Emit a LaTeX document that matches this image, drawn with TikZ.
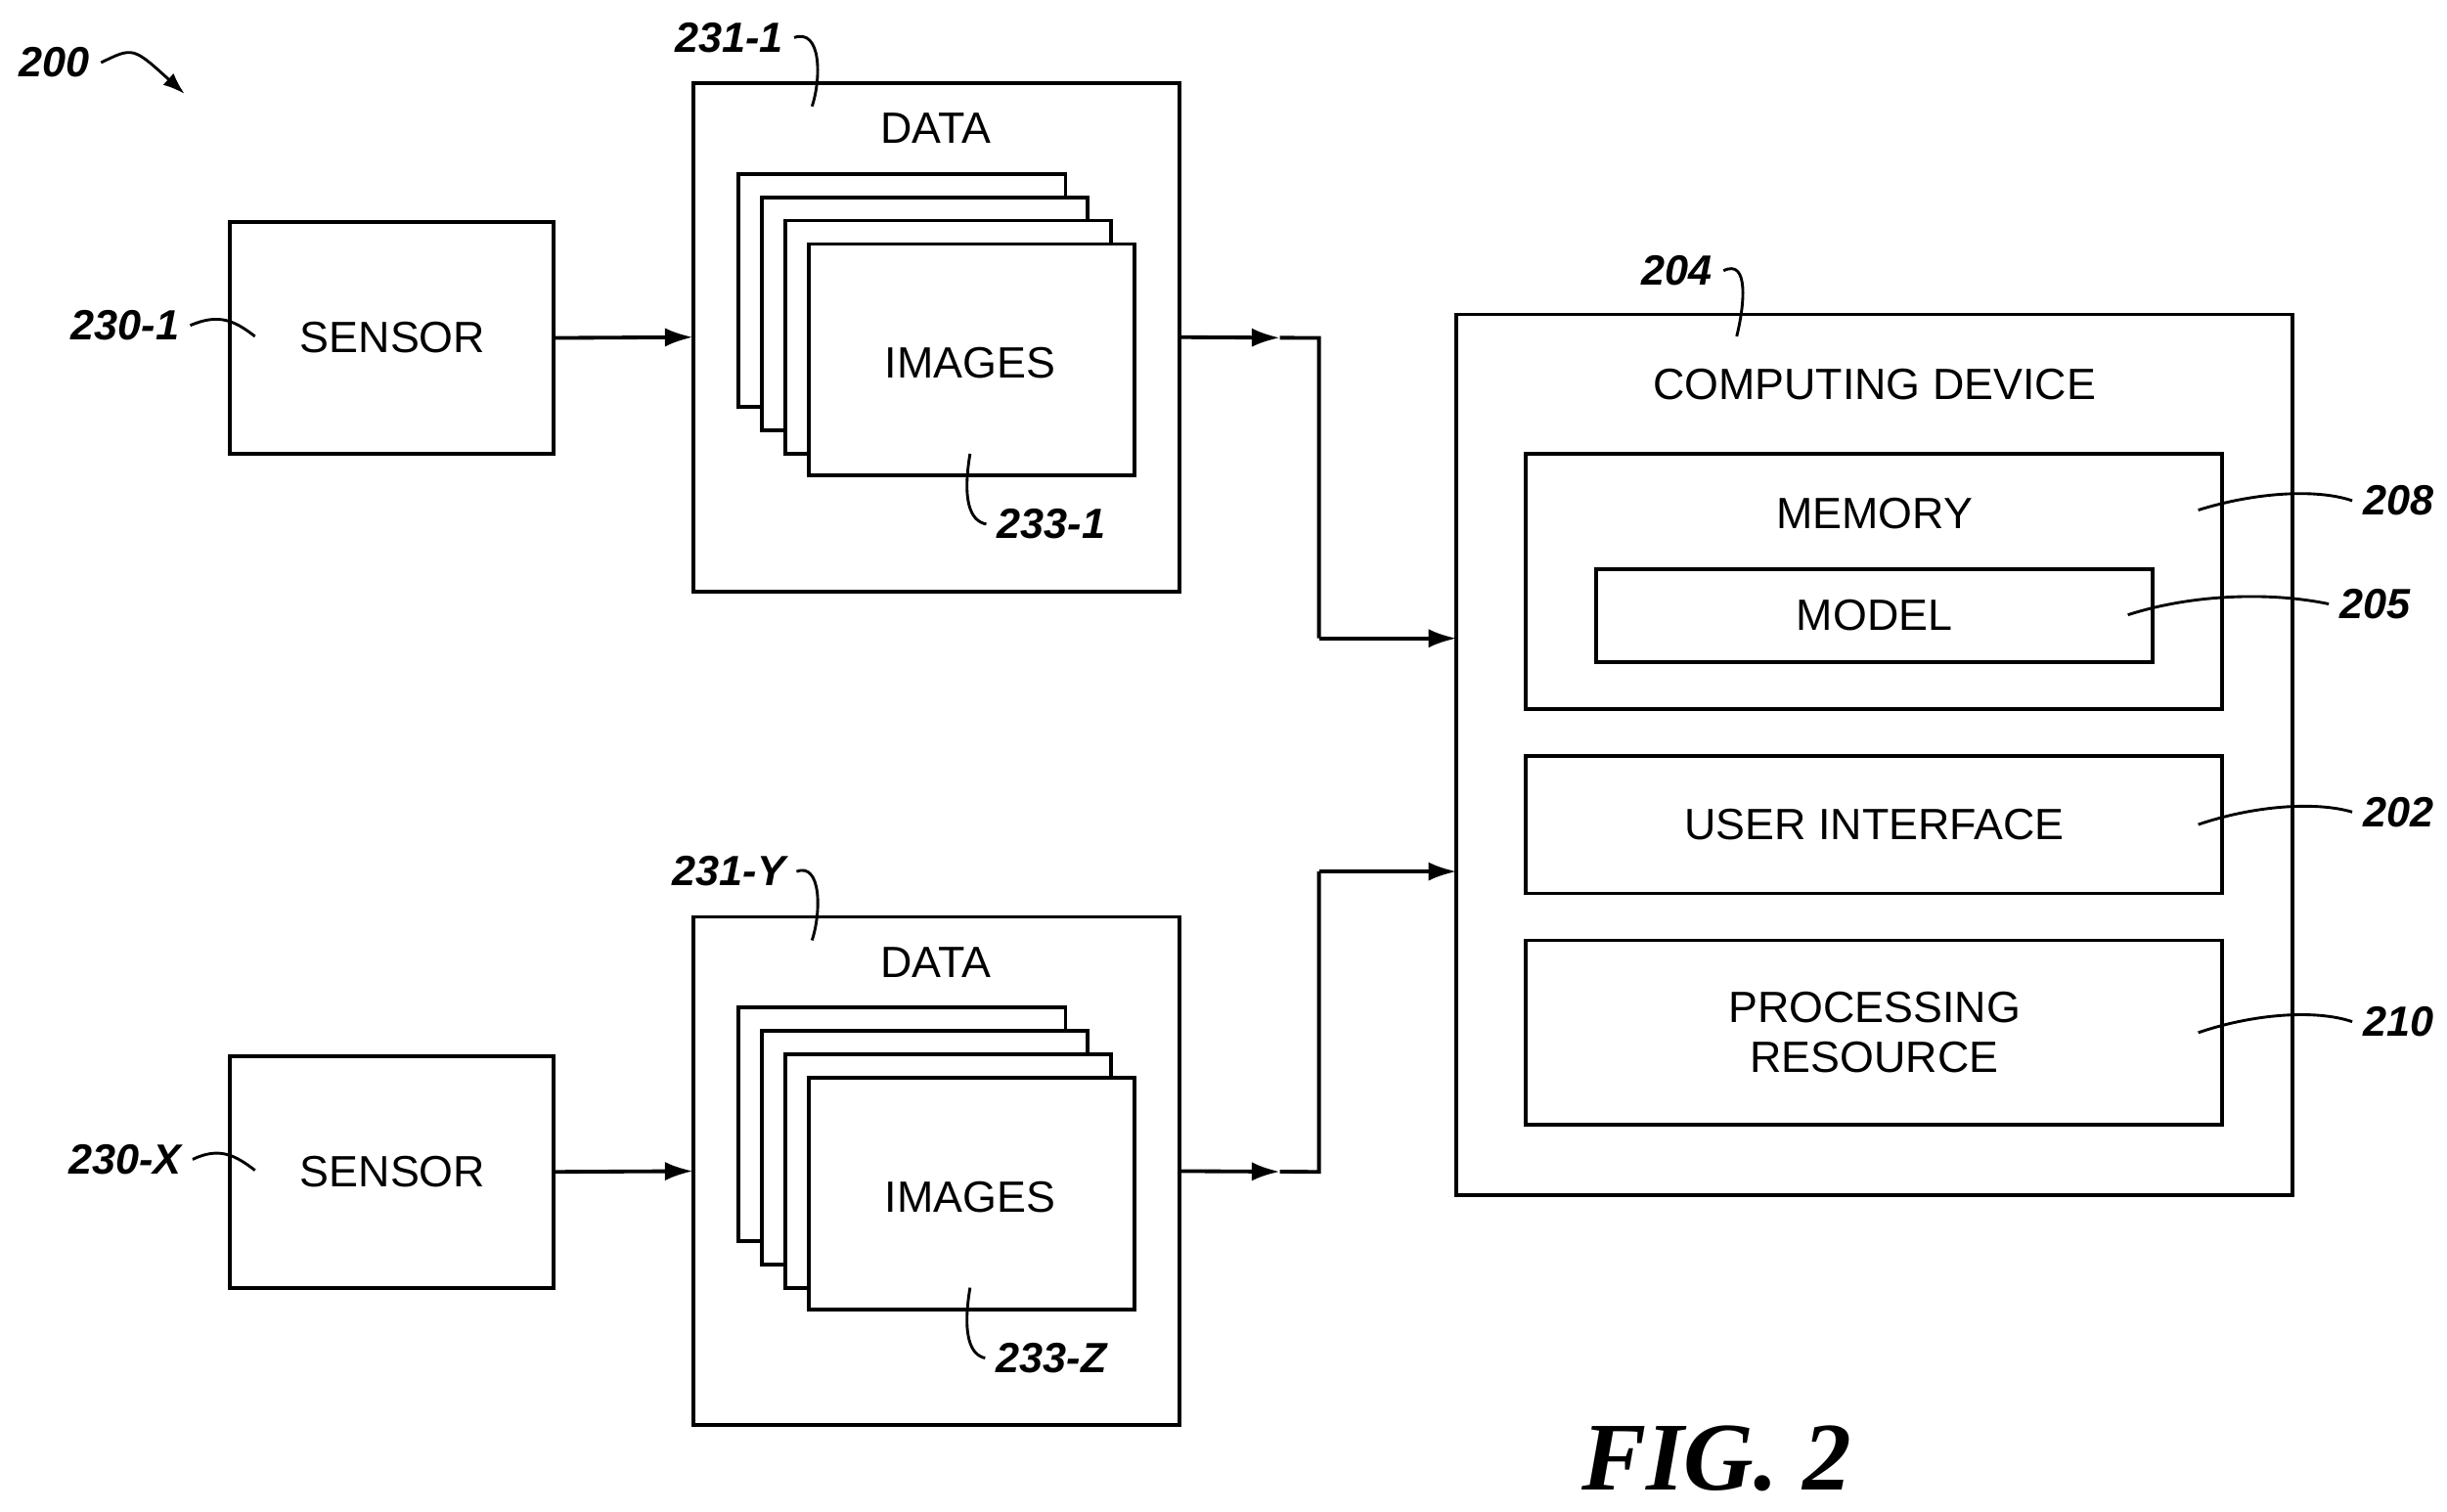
\documentclass[tikz,border=0pt]{standalone}
\usepackage{fontspec}
\setmainfont{Liberation Sans}
\newfontfamily\figfont{Liberation Serif}
\usetikzlibrary{fit,arrows.meta,calc}
\begin{document}
\begin{tikzpicture}[x=0.5pt,y=-0.5pt,
  box/.style={draw,line width=1.2pt,inner sep=0,outer sep=0,fill=white},
  txt/.style={font=\fontsize{14}{17}\selectfont,align=center},
  lbl/.style={font=\fontsize{13.5}{16}\selectfont\bfseries\itshape},
  lead/.style={line width=0.9pt},
  wire/.style={line width=1.2pt},
  arr/.style={line width=1.2pt,-{Latex[length=9pt,width=6pt]}}]
\useasboundingbox (0,0) rectangle (1564,966);
% sensors
\node[box,fit={(147,142)(354,290)}] (s1) {};
\node[txt] (s1t) at (251,216) {SENSOR};
\node[box,fit={(147,675)(354,823)}] (s2) {};
\node[txt] (s2t) at (251,749) {SENSOR};
% data boxes
\foreach \n/\dy in {1/0,2/533}{
  \node[box,fit={(443,53+\dy)(754,378+\dy)}] (d\n) {};
  \node[txt] (d\n t) at (598,82+\dy) {DATA};
  \node[box,fit={(472,111+\dy)(681,260+\dy)}] (i\n a) {};
  \node[box,fit={(487,126+\dy)(695,275+\dy)}] (i\n b) {};
  \node[box,fit={(502,141+\dy)(710,290+\dy)}] (i\n c) {};
  \node[box,fit={(517,156+\dy)(725,304+\dy)}] (i\n d) {};
  \node[txt] (i\n t) at (620,232+\dy) {IMAGES};
}
% computing device
\node[box,fit={(931,201)(1465,764)}] (cd) {};
\node[txt] (cdt) at (1198,246) {COMPUTING DEVICE};
\node[box,fit={(975,290)(1420,453)}] (mem) {};
\node[txt] (memt) at (1198,328) {MEMORY};
\node[box,fit={(1020,364)(1376,423)}] (mod) {};
\node[txt] (modt) at (1198,393) {MODEL};
\node[box,fit={(975,483)(1420,571)}] (ui) {};
\node[txt] (uit) at (1198,527) {USER INTERFACE};
\node[box,fit={(975,601)(1420,719)}] (pr) {};
\node[txt] (prt) at (1198,660) {PROCESSING\\[-1pt]RESOURCE};
% connectors
\draw[arr] (s1.east) -- (d1.east -| d1.west);
\draw[arr] (s2.east) -- (d2.east -| d2.west);
\coordinate (in1) at (931,408);
\coordinate (in2) at (931,557);
\coordinate (m1) at (843,216);
\coordinate (m2) at (843,749);
\draw[arr] (d1.east) -- ($(d1.east)!0.72!(m1)$) coordinate (q1);
\draw[wire] (q1) -- (m1) -- (m1 |- in1);
\draw[arr] (m1 |- in1) -- (in1);
\draw[arr] (d2.east) -- ($(d2.east)!0.72!(m2)$) coordinate (q2);
\draw[wire] (q2) -- (m2) -- (m2 |- in2);
\draw[arr] (m2 |- in2) -- (in2);
% labels
\node[lbl] (l200) at (35,40) {200};
\draw[lead,-{Latex[length=7pt,width=5pt]}] (l200.east) .. controls (85,30) .. (118,60);
\node[lbl] (l2311) at (466,24) {231-1};
\draw[lead] (l2311.east) .. controls (525,18) and (525,50) .. (519,68);
\node[lbl] (l231y) at (466,557) {231-Y};
\draw[lead] (l231y.east) .. controls (525,551) and (525,583) .. (519,601);
\node[lbl] (l2301) at (80,208) {230-1};
\draw[lead] (l2301.east) .. controls (140,200) and (150,205) .. (163,215);
\node[lbl] (l230x) at (80,741) {230-X};
\draw[lead] (l230x.east) .. controls (140,733) and (150,738) .. (163,748);
\node[lbl] (l2331) at (672,335) {233-1};
\draw[lead] (620,290) .. controls (615,320) and (620,333) .. (l2331.west);
\node[lbl] (l233z) at (672,868) {233-Z};
\draw[lead] (620,823) .. controls (615,853) and (620,866) .. (l233z.west);
\node[lbl] (l204) at (1072,173) {204};
\draw[lead] (l204.east) .. controls (1118,165) and (1115,195) .. (1110,215);
\node[lbl] (l208) at (1533,320) {208};
\draw[lead] (1405,326) .. controls (1440,315) and (1480,312) .. (l208.west);
\node[lbl] (l205) at (1518,386) {205};
\draw[lead] (1360,393) .. controls (1400,380) and (1450,378) .. (l205.west);
\node[lbl] (l202) at (1533,519) {202};
\draw[lead] (1405,527) .. controls (1440,515) and (1480,512) .. (l202.west);
\node[lbl] (l210) at (1533,653) {210};
\draw[lead] (1405,660) .. controls (1440,648) and (1480,645) .. (l210.west);
\node[font=\fontsize{31}{36}\selectfont\figfont\bfseries\itshape] (fig) at (1097,932) {FIG. 2};
\end{tikzpicture}
\end{document}
